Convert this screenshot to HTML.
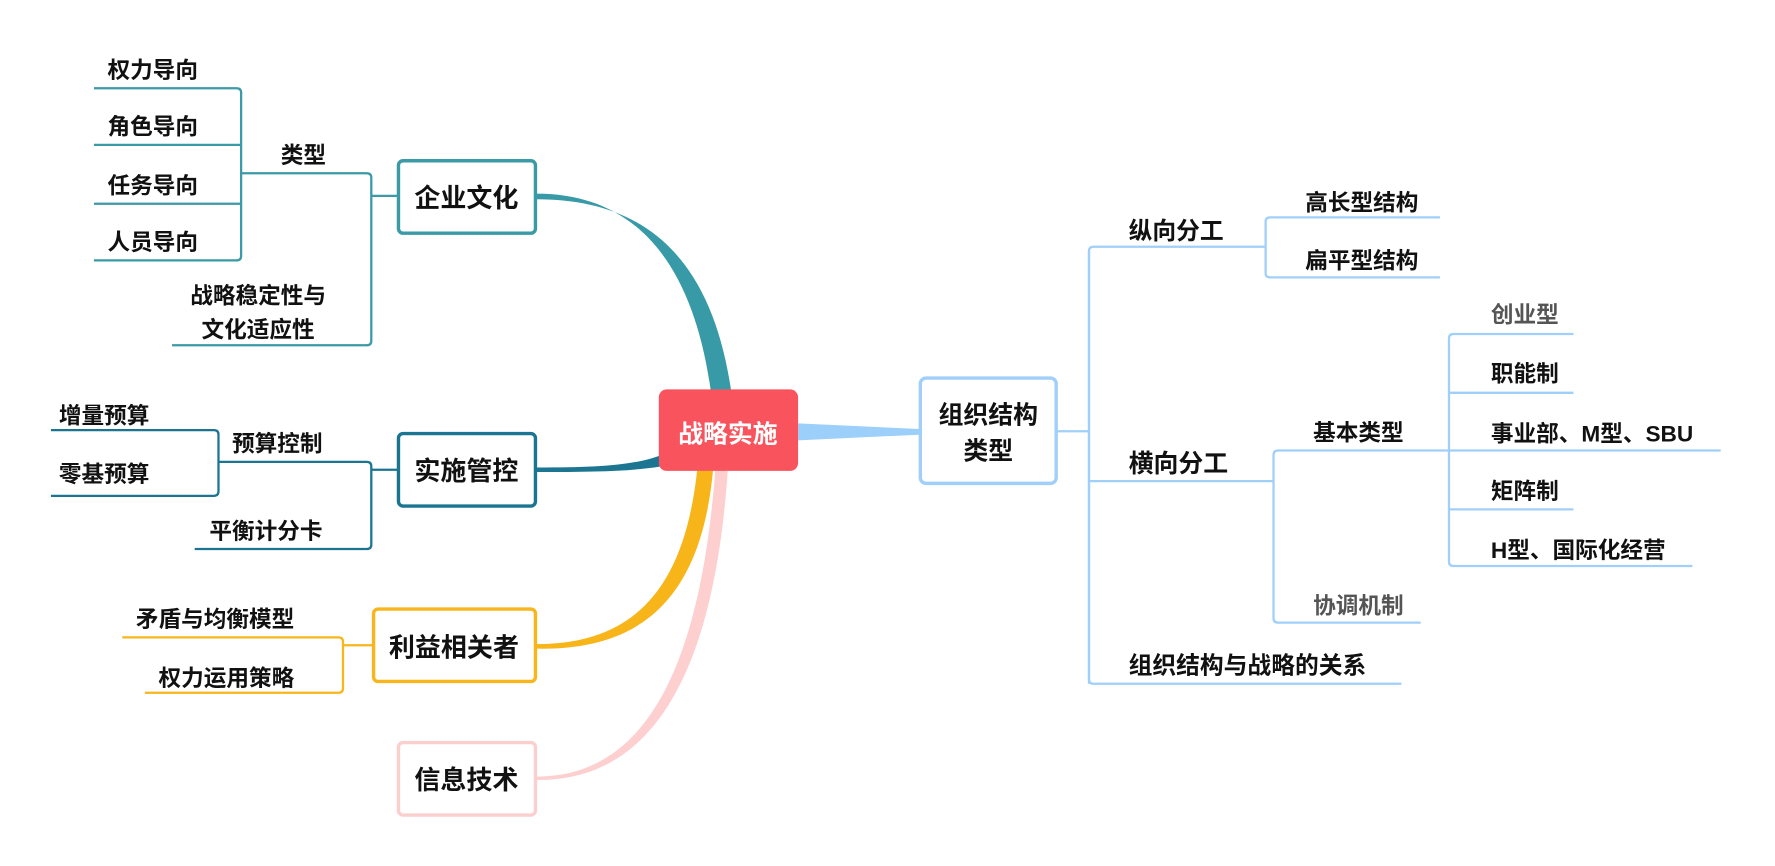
<!DOCTYPE html>
<html><head><meta charset="utf-8"><style>
html,body{margin:0;padding:0;background:#fff;}
svg{display:block;}
text{font-family:"Liberation Sans","Noto Sans CJK SC",sans-serif;font-weight:bold;fill:#111;}
</style></head><body>
<svg width="1775" height="866" viewBox="0 0 1568 765" xmlns="http://www.w3.org/2000/svg">
<path d="M474,171 C560,171 612,230 628,346 L646,346 C628,222 565,176 474,176 Z" fill="#379aa6"/>
<path d="M474,413 C530,413 560,411 584,402 L584,412 C560,416 530,417 474,417 Z" fill="#1c7691"/>
<path d="M474,569 C560,569 605,520 616,414 L630,414 C620,525 570,575 474,573 Z" fill="#f7b51a"/>
<path d="M474,686 C565,686 618,600 632,414 L643,414 C630,610 568,690 474,689 Z" fill="#fdcfcf"/>
<path d="M705,374 L812,379 L812,384 L705,389 Z" fill="#9ccffa"/>

<rect x="582" y="344" width="123" height="72" rx="7" fill="#f9545e"/>
<text x="643" y="391" font-size="22" text-anchor="middle" style="fill:#fff">战略实施</text>

<g fill="none" stroke="#a0cffa" stroke-width="2">
<rect x="813" y="334" width="120" height="93" rx="5" stroke-width="3"/>
<path d="M934,381 H962"/>
<path d="M962,604 V222 Q962,218 966,218 H1118"/>
<path d="M962,222 V600 Q962,604 966,604 H1238"/>
<path d="M962,425 H1125"/>
<path d="M1118,218 V196 Q1118,192 1122,192 H1272 M1118,218 V241 Q1118,245 1122,245 H1272"/>
<path d="M1125,425 V402 Q1125,398 1129,398 H1280 M1125,425 V546 Q1125,550 1129,550 H1255"/>
<path d="M1280,398 V299 Q1280,295 1284,295 H1390 M1280,347 H1390 M1280,398 H1520 M1280,398 V496 Q1280,500 1284,500 H1495 M1280,450 H1390"/>
</g>
<text x="873" y="374" font-size="22" text-anchor="middle">组织结构</text>
<text x="873" y="406" font-size="22" text-anchor="middle">类型</text>
<text x="997" y="211" font-size="21">纵向分工</text>
<text x="1153" y="186" font-size="20">高长型结构</text>
<text x="1153" y="237" font-size="20">扁平型结构</text>
<text x="997" y="417" font-size="22">横向分工</text>
<text x="1160" y="389" font-size="20">基本类型</text>
<text x="1160" y="542" font-size="20" style="fill:#555">协调机制</text>
<text x="1317" y="285" font-size="20" style="fill:#555">创业型</text>
<text x="1317" y="337" font-size="20">职能制</text>
<text x="1317" y="390" font-size="20">事业部、M型、SBU</text>
<text x="1317" y="441" font-size="20">矩阵制</text>
<text x="1317" y="493" font-size="20">H型、国际化经营</text>
<text x="997" y="595" font-size="21">组织结构与战略的关系</text>

<g fill="none" stroke="#3a9aa6" stroke-width="2">
<rect x="352" y="142" width="121" height="64" rx="4" stroke-width="3"/>
<path d="M351,173 H328 M328,157 V301 M328,157 Q328,153 324,153 H213 M328,301 Q328,305 324,305 H152"/>
<path d="M213,82 V226 M213,82 Q213,78 209,78 H83 M83,128 H213 M83,180 H213 M213,226 Q213,230 209,230 H83"/>
</g>
<text x="412" y="183" font-size="23" text-anchor="middle">企业文化</text>
<text x="248" y="144" font-size="20">类型</text>
<text x="95" y="69" font-size="20">权力导向</text>
<text x="95" y="119" font-size="20">角色导向</text>
<text x="95" y="171" font-size="20">任务导向</text>
<text x="95" y="221" font-size="20">人员导向</text>
<text x="228" y="268" font-size="20" text-anchor="middle">战略稳定性与</text>
<text x="228" y="298" font-size="20" text-anchor="middle">文化适应性</text>

<g fill="none" stroke="#1b7590" stroke-width="2">
<rect x="352" y="383" width="121" height="64" rx="4" stroke-width="3"/>
<path d="M351,415 H328 M328,412 V481 M328,412 Q328,408 324,408 H193 M328,481 Q328,485 324,485 H172"/>
<path d="M193,384 V434 M193,384 Q193,380 189,380 H45 M193,434 Q193,438 189,438 H45"/>
</g>
<text x="412" y="424" font-size="23" text-anchor="middle">实施管控</text>
<text x="205" y="399" font-size="20">预算控制</text>
<text x="52" y="374" font-size="20">增量预算</text>
<text x="52" y="426" font-size="20">零基预算</text>
<text x="185" y="476" font-size="20">平衡计分卡</text>

<g fill="none" stroke="#f8b51c" stroke-width="2">
<rect x="330" y="538" width="143" height="64" rx="4" stroke-width="3"/>
<path d="M329,570 H303 M303,567 V608 M303,567 Q303,563 299,563 H108 M303,608 Q303,612 299,612 H128"/>
</g>
<text x="401" y="580" font-size="23" text-anchor="middle">利益相关者</text>
<text x="120" y="554" font-size="20">矛盾与均衡模型</text>
<text x="140" y="606" font-size="20">权力运用策略</text>

<rect x="352" y="656" width="121" height="64" rx="4" fill="none" stroke="#fccfcf" stroke-width="3"/>
<text x="412" y="697" font-size="23" text-anchor="middle">信息技术</text>
</svg>
</body></html>
